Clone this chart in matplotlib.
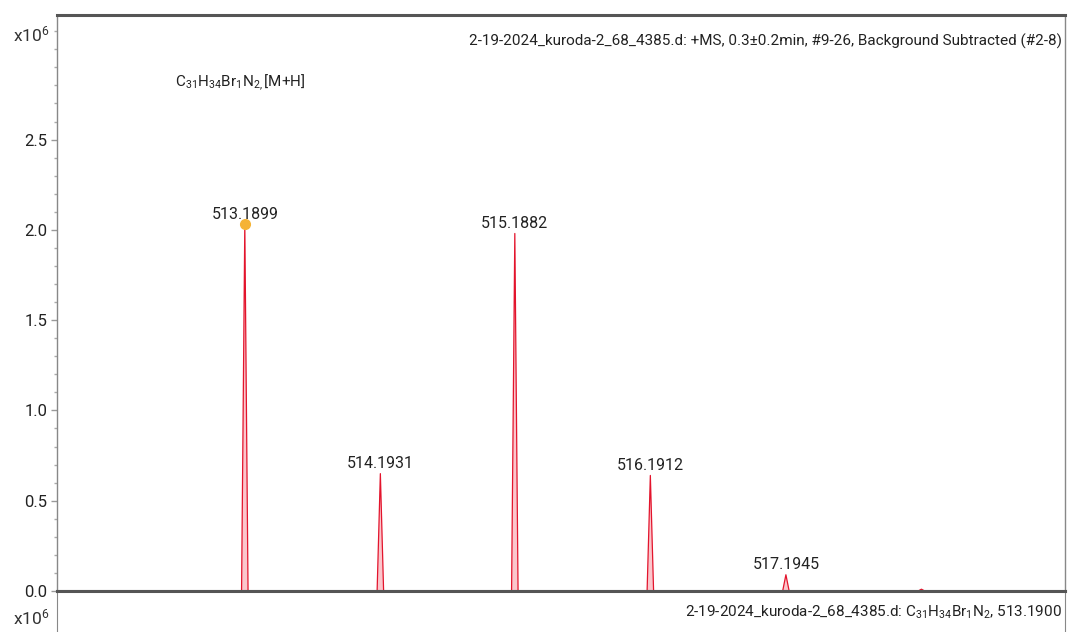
import matplotlib
matplotlib.use("Agg")
import matplotlib.pyplot as plt
from matplotlib.ticker import MultipleLocator, FixedLocator

plt.rcParams['font.family'] = ['Roboto', 'DejaVu Sans']
plt.rcParams['mathtext.default'] = 'regular'

# centroid m/z and intensity (x10^6)
mz = [513.1899, 514.1931, 515.1882, 516.1912, 517.1945, 518.1975]
inten = [2.03, 0.65, 1.98, 0.64, 0.09, 0.01]
labels = ["513.1899", "514.1931", "515.1882", "516.1912", "517.1945", ""]
yticks = [0.0, 0.5, 1.0, 1.5, 2.0, 2.5]

title_main = "2-19-2024_kuroda-2_68_4385.d: +MS, 0.3\u00b10.2min, #9-26, Background Subtracted (#2-8)"
title_next = "2-19-2024_kuroda-2_68_4385.d: C$_{31}$H$_{34}$Br$_1$N$_2$, 513.1900"
formula = "C$_{31}$H$_{34}$Br$_1$N$_{2,}$[M+H]"

W, H = 1068, 632
fig = plt.figure(figsize=(W/100, H/100), dpi=100)

def box(l, t, r, b):
    return [l/W, 1 - b/H, (r - l)/W, (b - t)/H]

ax = fig.add_axes(box(57, 15, 1065, 591))
half = 0.024
for m, h, lab in zip(mz, inten, labels):
    xs = [m - half, m, m + half]
    ys = [0, h, 0]
    ax.fill(xs, ys, color='#fbc6cc', lw=0)
    ax.plot(xs, ys, color='#e3142c', lw=0.9)
    if lab:
        ax.annotate(lab, (m, h), xytext=(0, 2), textcoords='offset points',
                    ha='center', va='bottom', fontsize=11.5, color='#222222')
ax.plot(mz[0], inten[0], 'o', color='#f5b335', ms=7, zorder=5)

ax.set_xlim(511.80, 519.26)
ax.set_ylim(0, 3.19)
ax.yaxis.set_major_locator(FixedLocator(yticks))
ax.yaxis.set_minor_locator(MultipleLocator(0.1))
ax.yaxis.set_major_formatter(plt.FuncFormatter(lambda v, p: "%.1f" % v))
ax.tick_params(axis='y', which='major', length=4, width=1, color='#999999',
               labelsize=12, labelcolor='#222222', pad=3)
ax.tick_params(axis='y', which='minor', length=2.5, width=1, color='#aaaaaa')
ax.set_xticks([])
for s in ['left', 'right']:
    ax.spines[s].set_color('#888888')
    ax.spines[s].set_linewidth(1)
for s in ['top', 'bottom']:
    ax.spines[s].set_color('#555555')
    ax.spines[s].set_linewidth(2.2)

ax.text(0.997, 0.955, title_main, transform=ax.transAxes, ha='right', va='center',
        fontsize=11, color='#222222')
ax.text(0.117, 0.882, formula, transform=ax.transAxes, ha='left', va='center',
        fontsize=11, color='#222222')
fig.text(13/W, 1 - 34/H, "x10$^6$", ha='left', va='center', fontsize=12.5,
         color='#333333')

# next stacked panel (only its top edge is visible)
ax2 = fig.add_axes(box(57, 591, 1065, 760))
ax2.set_xlim(ax.get_xlim())
ax2.set_xticks([])
ax2.set_yticks([])
for s in ['left', 'right']:
    ax2.spines[s].set_color('#888888')
ax2.spines['top'].set_color('#555555')
ax2.spines['top'].set_linewidth(2.2)
ax2.text(0.997, 0.876, title_next, transform=ax2.transAxes, ha='right', va='center',
         fontsize=11, color='#222222')
fig.text(13/W, 1 - 617/H, "x10$^6$", ha='left', va='center', fontsize=12.5,
         color='#333333')

fig.savefig("out.png", dpi=100)
